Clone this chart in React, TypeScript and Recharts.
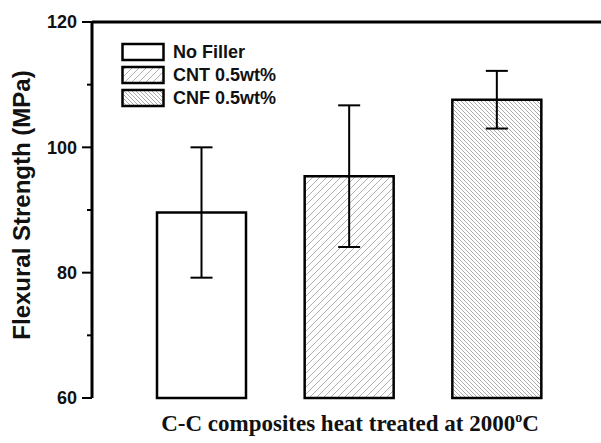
import React from 'react';
import { BarChart, Bar, XAxis, YAxis, ErrorBar, Cell, ReferenceLine, Legend } from 'recharts';

const categories = ['No Filler', 'CNT 0.5wt%', 'CNF 0.5wt%'];
const strengths = [89.6, 95.4, 107.6];
const errors = [10.4, 11.3, 4.6];
const yTicks = [60, 70, 80, 90, 100, 110, 120];
const labeledTicks = [60, 80, 100, 120];
const fills = ['#ffffff', 'url(#hatchA)', 'url(#hatchB)'];

const data = categories.map((c, i) => ({ name: c, value: strengths[i], err: errors[i] }));

const SANS = '"Liberation Sans", Arial, Helvetica, sans-serif';
const SERIF = '"Liberation Serif", "Times New Roman", serif';

const YTick = (props: any) => {
  const { x, y, payload } = props;
  const major = labeledTicks.includes(payload.value);
  return (
    <g>
      <line x1={major ? x - 10 : x - 5} x2={x} y1={y} y2={y} stroke="#000" strokeWidth={2} />
      {major && (
        <text x={x - 15} y={y} dy="0.36em" textAnchor="end" fontFamily={SANS} fontWeight="bold" fontSize={18} fill="#111">
          {payload.value}
        </text>
      )}
    </g>
  );
};

const LegendContent = () => (
  <div style={{ display: 'flex', flexDirection: 'column' }}>
    {categories.map((c, i) => (
      <div key={c} style={{ display: 'flex', alignItems: 'center', height: 23 }}>
        <svg width={44} height={20} style={{ display: 'block' }}>
          <rect x={1.5} y={2} width={41} height={16} fill={fills[i]} stroke="#000" strokeWidth={2.5} />
        </svg>
        <span style={{ marginLeft: 8, fontFamily: SANS, fontWeight: 'bold', fontSize: 18, color: '#111', lineHeight: '20px' }}>{c}</span>
      </div>
    ))}
  </div>
);

export default function App() {
  return (
    <div style={{ position: 'absolute', left: 0, top: 0, width: 601, height: 443, background: '#fff' }}>
      <BarChart width={601} height={443} data={data} margin={{ top: 22, right: 0, bottom: 45, left: 0 }}>
        <defs>
          <pattern id="hatchA" patternUnits="userSpaceOnUse" width={7} height={7}>
            <rect width={7} height={7} fill="#fff" />
            <path d="M0,7 L7,0 M-1,1 L1,-1 M6,8 L8,6" stroke="#b0b0b0" strokeWidth={1} />
          </pattern>
          <pattern id="hatchB" patternUnits="userSpaceOnUse" width={4} height={4}>
            <rect width={4} height={4} fill="#fff" />
            <path d="M0,0 L4,4 M-1,3 L1,5 M3,-1 L5,1" stroke="#ababab" strokeWidth={1} />
          </pattern>
        </defs>
        <XAxis
          dataKey="name"
          height={0}
          tick={false}
          tickLine={false}
          axisLine={{ stroke: '#000', strokeWidth: 3 }}
          padding={{ left: 36, right: 30 }}
        />
        <YAxis
          type="number"
          domain={[60, 120]}
          ticks={yTicks}
          interval={0}
          width={92}
          tickSize={0}
          tickMargin={0}
          tickLine={false}
          tick={<YTick />}
          axisLine={{ stroke: '#000', strokeWidth: 3 }}
        />
        <ReferenceLine y={120} stroke="#000" strokeWidth={3} />
        <Legend
          layout="vertical"
          align="center"
          verticalAlign="middle"
          content={<LegendContent />}
          wrapperStyle={{ left: 121, top: 40.5, width: 'auto', height: 'auto' }}
        />
        <Bar dataKey="value" barSize={89} stroke="#000" strokeWidth={2.5} isAnimationActive={false}>
          {data.map((d, i) => (
            <Cell key={d.name} fill={fills[i]} />
          ))}
          <ErrorBar dataKey="err" width={11} strokeWidth={2} stroke="#000" direction="y" />
        </Bar>
        <text
          x={30}
          y={205}
          transform="rotate(-90, 30, 205)"
          textAnchor="middle"
          fontFamily={SANS}
          fontWeight="bold"
          fontSize={24}
          fill="#111"
        >
          Flexural Strength (MPa)
        </text>
        <text x={350} y={431} textAnchor="middle" fontFamily={SERIF} fontWeight="bold" fontSize={23} fill="#111">
          C-C composites heat treated at 2000
          <tspan fontSize={14} dy={-9}>o</tspan>
          <tspan dy={9}>C</tspan>
        </text>
      </BarChart>
    </div>
  );
}
